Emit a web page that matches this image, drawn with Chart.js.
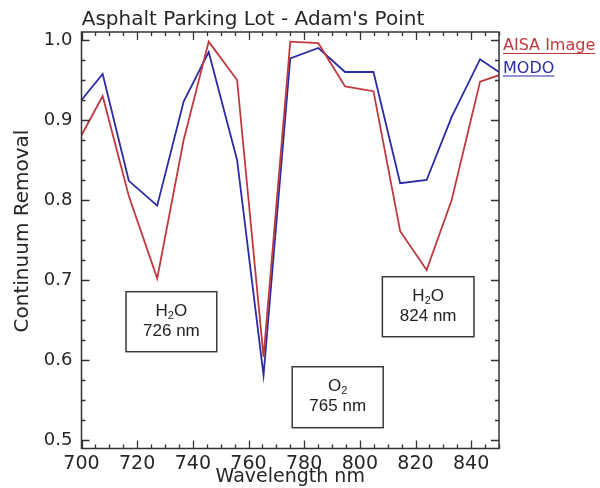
<!DOCTYPE html>
<html>
<head>
<meta charset="utf-8">
<script src="https://cdn.jsdelivr.net/npm/chart.js@4.4.1/dist/chart.umd.min.js"></script>
<style>
  html, body { margin: 0; padding: 0; background: #ffffff; }
  #wrap { width: 600px; height: 488px; }
</style>
</head>
<body>
<div id="wrap"><canvas id="c" width="600" height="488"></canvas></div>
<script>
// ---- data ----
const wavelengths = [700, 707.6, 717, 727.2, 736.7, 745.7, 755.9, 765.4, 775, 785.1, 794.7, 804.9, 814.5, 824, 833, 843.2, 850];
const aisaImage   = [0.881, 0.930, 0.805, 0.702, 0.875, 0.998, 0.950, 0.604, 0.998, 0.996, 0.942, 0.936, 0.761, 0.7125, 0.800, 0.948, 0.956];
const modo        = [0.925, 0.9575, 0.824, 0.793, 0.923, 0.985, 0.850, 0.581, 0.977, 0.990, 0.960, 0.960, 0.821, 0.825, 0.904, 0.976, 0.960];
const xTickLabels = [700, 720, 740, 760, 780, 800, 820, 840];
const yTickLabels = [0.5, 0.6, 0.7, 0.8, 0.9, 1.0];
const seriesNames = ['AISA Image', 'MODO'];
const chartTitle = "Asphalt Parking Lot - Adam's Point";
const xTitle = 'Wavelength nm';
const yTitle = 'Continuum Removal';
const noteTexts = [['H2O', '726 nm'], ['O2', '765 nm'], ['H2O', '824 nm']];

// ---- styling / placement (kept separate from data) ----
const RED = '#c0393f';
const BLUE = '#2b2ba6';
const INK = '#262626';
const noteBoxes = [
  { x1: 716.0, x2: 748.6, yTop: 0.6854, yBot: 0.6104 },
  { x1: 775.7, x2: 808.4, yTop: 0.5916, yBot: 0.5154 },
  { x1: 808.1, x2: 841.0, yTop: 0.7041, yBot: 0.6291 }
];

function toPts(xs, ys) { return xs.map((x, i) => ({ x: x, y: ys[i] })); }

const framePlugin = {
  id: 'frame',
  afterDraw(chart) {
    const ctx = chart.ctx, a = chart.chartArea;
    const xs = chart.scales.x, ys = chart.scales.y;
    ctx.save();
    ctx.strokeStyle = '#333';
    ctx.lineWidth = 1.5;
    ctx.strokeRect(a.left, a.top, a.right - a.left, a.bottom - a.top);
    ctx.lineWidth = 1.3;
    ctx.beginPath();
    for (let v = 700; v <= 850.001; v += 5) {
      const major = Math.abs((v - 700) % 20) < 1e-6;
      const L = major ? 8 : 4;
      const px = Math.round(xs.getPixelForValue(v)) + 0.5;
      ctx.moveTo(px, a.bottom); ctx.lineTo(px, a.bottom - L);
      ctx.moveTo(px, a.top); ctx.lineTo(px, a.top + L);
    }
    for (let k = 0; k <= 20; k++) {
      const v = 0.5 + k * 0.025;
      const major = k % 4 === 0;
      const L = major ? 8 : 4;
      const py = Math.round(ys.getPixelForValue(v)) + 0.5;
      ctx.moveTo(a.left, py); ctx.lineTo(a.left + L, py);
      ctx.moveTo(a.right, py); ctx.lineTo(a.right - L, py);
    }
    ctx.stroke();

    // title
    ctx.fillStyle = INK;
    ctx.font = '20px "DejaVu Sans"';
    ctx.textAlign = 'center';
    ctx.textBaseline = 'alphabetic';
    ctx.fillText(chartTitle, 253, 25);

    // y-axis title
    ctx.save();
    ctx.translate(28, 231);
    ctx.rotate(-Math.PI / 2);
    ctx.font = '20px "DejaVu Sans"';
    ctx.textAlign = 'center';
    ctx.textBaseline = 'alphabetic';
    ctx.fillText(yTitle, 0, 0);
    ctx.restore();

    // legend (text labels at right)
    const legendColors = [RED, BLUE];
    ctx.font = '16px "DejaVu Sans"';
    ctx.textAlign = 'left';
    seriesNames.forEach((name, i) => {
      const by = 50 + i * 22.5;
      ctx.fillStyle = legendColors[i];
      ctx.fillText(name, 503, by);
      const w = ctx.measureText(name).width;
      ctx.strokeStyle = legendColors[i];
      ctx.lineWidth = 1.2;
      ctx.beginPath();
      ctx.moveTo(503, by + 3.5); ctx.lineTo(503 + w, by + 3.5);
      ctx.stroke();
    });

    // annotation boxes
    noteBoxes.forEach((b, i) => {
      const x1 = xs.getPixelForValue(b.x1), x2 = xs.getPixelForValue(b.x2);
      const y1 = ys.getPixelForValue(b.yTop), y2 = ys.getPixelForValue(b.yBot);
      ctx.fillStyle = '#ffffff';
      ctx.fillRect(x1, y1, x2 - x1, y2 - y1);
      ctx.strokeStyle = '#3a3a3a';
      ctx.lineWidth = 1.5;
      ctx.strokeRect(x1, y1, x2 - x1, y2 - y1);
      const cx = (x1 + x2) / 2;
      drawChem(ctx, noteTexts[i][0], cx, y1 + 24);
      ctx.font = '17px "Liberation Sans"';
      ctx.textAlign = 'center';
      ctx.fillStyle = '#222';
      ctx.fillText(noteTexts[i][1], cx, y1 + 44);
    });
    ctx.restore();
  }
};

// draws a formula such as H2O with subscript digits, centred at cx
function drawChem(ctx, s, cx, baseY) {
  const big = '17px "Liberation Sans"', small = '11px "Liberation Sans"';
  const parts = s.split('').map(ch => ({ ch: ch, sub: /[0-9]/.test(ch) }));
  let total = 0;
  parts.forEach(p => { ctx.font = p.sub ? small : big; p.w = ctx.measureText(p.ch).width; total += p.w; });
  let x = cx - total / 2;
  ctx.textAlign = 'left';
  ctx.fillStyle = '#222';
  parts.forEach(p => {
    ctx.font = p.sub ? small : big;
    ctx.fillText(p.ch, x, baseY + (p.sub ? 3 : 0));
    x += p.w;
  });
}

new Chart(document.getElementById('c'), {
  type: 'line',
  data: {
    datasets: [
      { label: seriesNames[0], data: toPts(wavelengths, aisaImage), borderColor: RED, backgroundColor: RED, borderWidth: 1.8, pointRadius: 0, tension: 0, fill: false },
      { label: seriesNames[1], data: toPts(wavelengths, modo), borderColor: BLUE, backgroundColor: BLUE, borderWidth: 1.8, pointRadius: 0, tension: 0, fill: false }
    ]
  },
  options: {
    responsive: false,
    animation: false,
    events: [],
    layout: { padding: { left: 0, right: 101, top: 32, bottom: 0 } },
    plugins: { legend: { display: false }, title: { display: false }, tooltip: { enabled: false } },
    scales: {
      x: {
        type: 'linear', min: 700, max: 850,
        afterBuildTicks: s => { s.ticks = xTickLabels.map(v => ({ value: v })); },
        afterFit: s => { s.height = 39.5; },
        grid: { display: false, drawTicks: false },
        border: { display: false },
        ticks: { color: INK, font: { family: 'DejaVu Sans', size: 19 }, padding: 4, maxRotation: 0, autoSkip: false },
        title: { display: true, text: xTitle, color: INK, font: { family: 'DejaVu Sans', size: 19 }, padding: { top: -3, bottom: 0 } }
      },
      y: {
        type: 'linear', min: 0.4894, max: 1.01,
        afterBuildTicks: s => { s.ticks = yTickLabels.map(v => ({ value: v })); },
        afterFit: s => { s.width = 81.5; },
        grid: { display: false, drawTicks: false },
        border: { display: false },
        ticks: { color: INK, font: { family: 'DejaVu Sans', size: 18 }, padding: 9, callback: v => Number(v).toFixed(1) }
      }
    }
  },
  plugins: [framePlugin]
});
</script>
</body>
</html>
